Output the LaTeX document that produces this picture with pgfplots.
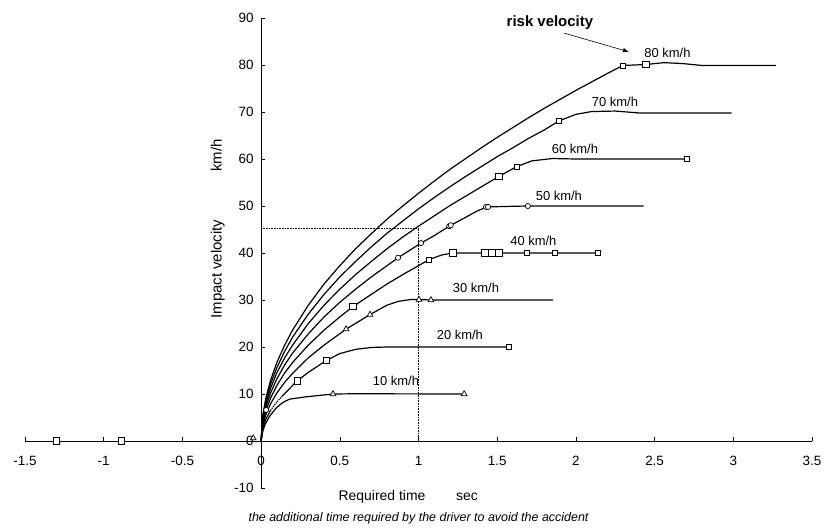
\documentclass[border=0pt]{standalone}
\usepackage{pgfplots}
\pgfplotsset{compat=1.18}
\usepackage{fontspec}
\setmainfont{Liberation Sans}
\usetikzlibrary{arrows.meta}
\begin{document}
\begin{tikzpicture}
\begin{axis}[
  at={(0,0)}, anchor=south west,
  scale only axis, width=787bp, height=470bp,
  xmin=-1.5, xmax=3.5, ymin=-10, ymax=90,
  axis lines=middle, axis line style={-, line width=0.7bp},
  xtick={-1.5,-1,-0.5,0,0.5,1,1.5,2,2.5,3,3.5},
  ytick={-10,0,10,20,30,40,50,60,70,80,90},
  hide obscured x ticks=false, hide obscured y ticks=false,
  tick align=inside, major tick length=4bp, tick style={black, line width=0.6bp},
  /pgf/number format/assume math mode=true,
  ticklabel style={font=\fontsize{13.5}{15}\selectfont},
  xticklabel style={yshift=-12bp},
  yticklabel style={xshift=-4bp},
  clip=false,
]
% reference lines
\addplot[black, densely dotted, line width=0.6bp] coordinates {(0,45.3) (1,45.3) (1,0)};
% curves
\addplot[black, line width=1.2bp] coordinates {(0,0) (0.01,5.3) (0.03,9.1) (0.06,12.9) (0.1,16.7) (0.15,20.4) (0.2,23.6) (0.3,28.9) (0.4,33.4) (0.5,37.3) (0.6,40.9) (0.7,44.1) (0.8,47.2) (0.9,50.0) (1.0,52.7) (1.1,55.3) (1.2,57.8) (1.3,60.1) (1.4,62.4) (1.5,64.6) (1.6,66.7) (1.7,68.8) (1.8,70.8) (1.9,72.7) (2.0,74.6) (2.1,76.4) (2.2,78.2) (2.298,79.9) (2.444,80.1) (2.56,80.5) (2.68,80.3) (2.8,79.9) (3.27,79.9)};
\addplot[black, line width=1.2bp] coordinates {(0,0) (0.01,4.9) (0.03,8.6) (0.06,12.1) (0.1,15.6) (0.15,19.1) (0.2,22.1) (0.3,27.0) (0.4,31.2) (0.5,34.9) (0.6,38.2) (0.7,41.3) (0.8,44.2) (0.9,46.8) (1.0,49.4) (1.1,51.8) (1.2,54.1) (1.3,56.3) (1.4,58.4) (1.5,60.5) (1.6,62.4) (1.7,64.4) (1.8,66.2) (1.892,68.1) (2.0,69.5) (2.1,70.1) (2.25,70.2) (2.4,69.8) (2.99,69.8)};
\addplot[black, line width=1.2bp] coordinates {(0,0) (0.01,4.6) (0.03,7.9) (0.06,11.2) (0.1,14.5) (0.15,17.7) (0.2,20.4) (0.3,25.0) (0.4,28.9) (0.5,32.3) (0.6,35.4) (0.7,38.2) (0.8,40.9) (0.9,43.4) (1.0,45.7) (1.1,47.9) (1.2,50.1) (1.3,52.1) (1.4,54.1) (1.511,56.3) (1.625,58.4) (1.72,59.6) (1.85,60.1) (2.0,60.0) (2.705,60.0)};
\addplot[black, line width=1.2bp] coordinates {(0,0) (0.01,4.2) (0.03,7.2) (0.06,10.2) (0.1,13.2) (0.15,16.2) (0.2,18.7) (0.3,22.8) (0.4,26.4) (0.5,29.5) (0.6,32.3) (0.7,34.9) (0.8,37.3) (0.870,39.0) (1.016,42.1) (1.1,43.7) (1.2,45.8) (1.3,47.6) (1.37,48.9) (1.435,49.8) (1.55,49.9) (1.695,50.0) (2.43,50.0)};
\addplot[black, line width=1.2bp] coordinates {(0,0) (0.01,3.7) (0.03,6.5) (0.06,9.1) (0.1,11.8) (0.15,14.5) (0.2,16.7) (0.3,20.4) (0.4,23.6) (0.5,26.4) (0.584,28.6) (0.7,31.2) (0.8,33.4) (0.9,35.4) (1.0,37.3) (1.067,38.6) (1.15,39.6) (1.219,40.0) (2.14,40.0)};
\addplot[black, line width=1.2bp] coordinates {(0,0) (0.01,3.2) (0.03,5.6) (0.06,7.9) (0.1,10.2) (0.15,12.5) (0.2,14.4) (0.3,17.7) (0.4,20.4) (0.54,23.8) (0.692,26.9) (0.8,28.9) (0.87,29.7) (0.95,30.1) (1.003,30.1) (1.079,30.0) (1.854,30.0)};
\addplot[black, line width=1.2bp] coordinates {(0,0) (0.01,2.6) (0.03,4.6) (0.06,6.5)};
\addplot[black, densely dotted, line width=1.2bp] coordinates {(0.06,6.5) (0.1,8.3) (0.13,9.4)};
\addplot[black, line width=1.2bp] coordinates {(0.13,9.4) (0.229,12.8) (0.3,14.6) (0.413,17.1) (0.5,18.6) (0.6,19.5) (0.7,19.9) (0.8,20.0) (1.575,20.0)};
\addplot[black, line width=1.2bp] coordinates {(0,0) (0.01,2.0) (0.025,3.5) (0.053,5.2) (0.095,7.0) (0.138,8.2) (0.18,8.9) (0.286,9.4) (0.457,10.0) (0.6,10.05) (1.29,10.0)};
% markers
\addplot[only marks, mark=square*, mark size=3.2bp, mark options={fill=white, draw=black, line width=0.7bp}] coordinates {(0.229,12.8) (0.413,17.1) (0.584,28.6) (1.219,40) (1.422,40) (1.467,40) (1.511,40) (1.511,56.3) (2.444,80.1) (-1.302,0) (-0.889,0)};
\addplot[only marks, mark=square*, mark size=2.4bp, mark options={fill=white, draw=black, line width=0.7bp}] coordinates {(1.575,20) (1.067,38.6) (1.689,40) (1.867,40) (2.14,40) (1.625,58.4) (2.705,60) (1.892,68.1) (2.298,79.9)};
\addplot[only marks, mark=*, mark size=2.6bp, mark options={fill=white, draw=black, line width=0.7bp}] coordinates {(0.870,39.0) (1.016,42.1) (1.195,45.7) (1.205,45.9) (1.429,49.8) (1.442,49.8) (1.695,50.0) (0.032,6.6)};
\addplot[only marks, mark=triangle*, mark size=3.3bp, mark options={fill=white, draw=black, line width=0.7bp}] coordinates {(0.54,23.8) (0.692,26.9) (1.003,30.1) (1.079,30.0) (0.457,10) (1.29,10) (-0.05,0.6)};
% curve labels
\begin{scope}[every node/.style={font=\fontsize{13}{15}\selectfont, inner sep=0pt}]
\node at (axis cs:2.582,82.55) {80 km/h};
\node at (axis cs:2.248,72.2) {70 km/h};
\node at (axis cs:1.994,62.2) {60 km/h};
\node at (axis cs:1.892,52.1) {50 km/h};
\node at (axis cs:1.730,42.55) {40 km/h};
\node at (axis cs:1.365,32.66) {30 km/h};
\node at (axis cs:1.263,22.5) {20 km/h};
\node at (axis cs:0.857,12.77) {10 km/h};
\end{scope}
\node[font=\fontsize{15}{17}\selectfont\bfseries, inner sep=0pt] at (axis cs:1.835,89.1) {risk velocity};
\draw[-{Latex[length=6bp,width=4.5bp]}, line width=0.6bp] (axis cs:1.924,86.8) -- (axis cs:2.337,82.8);
% axis labels
\node[font=\fontsize{14}{16}\selectfont, inner sep=0pt] at (rel axis cs:0.487,0) [yshift=-9bp] {Required time\hspace{2.2em}sec};
\node[font=\fontsize{12.5}{15}\selectfont\itshape, inner sep=0pt] at (rel axis cs:0.5,0) [yshift=-30bp] {the additional time required by the driver to avoid the accident};
\node[font=\fontsize{15}{17}\selectfont, inner sep=0pt, rotate=90] at (rel axis cs:0.245,0.551) {Impact velocity\hspace{3.2em}km/h};
\end{axis}
\pgfresetboundingbox
\path (-25bp,-41bp) rectangle (799bp,488bp);
\end{tikzpicture}
\end{document}
